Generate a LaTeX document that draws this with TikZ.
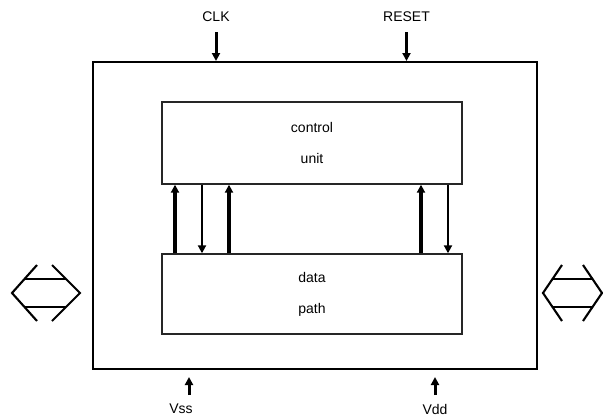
\documentclass[tikz,border=0pt]{standalone}
\usepackage{fontspec}
\setmainfont{Liberation Sans}
\usetikzlibrary{arrows.meta}
\begin{document}
\begin{tikzpicture}[x=1pt,y=-1pt,
  lbl/.style={font=\fontsize{14}{31}\selectfont, inner sep=0pt},
  block/.style={draw, line width=1.4pt, draw=black!85, align=center,
    font=\fontsize{14}{31}\selectfont},
  pin/.style={line width=3pt, -{Triangle[length=8pt,width=8pt]}},
  upbus/.style={line width=3.2pt, -{Triangle[length=8pt,width=8pt]}},
  downbus/.style={line width=2.3pt, -{Triangle[length=8pt,width=8pt]}},
  port/.style={line width=2.1pt, line join=miter}]
\useasboundingbox (0,0) rectangle (603,418);

% chip outline
\node[draw, line width=2pt, minimum width=444pt, minimum height=307pt,
  inner sep=0pt] (chip) at (315,215.5) {};

% controller and datapath blocks
\node[block, minimum width=300pt, minimum height=82pt, inner sep=0pt]
  (cu) at (312,143) {control\\unit};
\node[block, minimum width=300pt, minimum height=80pt, inner sep=0pt]
  (dp) at (312,294) {data\\path};

% buses between the blocks
\coordinate (b1) at (175,0);
\coordinate (b2) at (202,0);
\coordinate (b3) at (229,0);
\coordinate (b4) at (421,0);
\coordinate (b5) at (448,0);
\draw[upbus]   (b1 |- dp.north) -- (b1 |- cu.south);
\draw[downbus] (b2 |- cu.south) -- (b2 |- dp.north);
\draw[upbus]   (b3 |- dp.north) -- (b3 |- cu.south);
\draw[upbus]   (b4 |- dp.north) -- (b4 |- cu.south);
\draw[downbus] (b5 |- cu.south) -- (b5 |- dp.north);

% control inputs
\node[lbl] (clk) at (216,17) {CLK};
\node[lbl] (rst) at (406.5,17) {RESET};
\draw[pin] ([yshift=-10pt]clk.south) -- (clk.south |- chip.north);
\draw[pin] ([yshift=-10pt]rst.south) -- (rst.south |- chip.north);

% supplies
\node[lbl] (vss) at (181,409) {Vss};
\node[lbl] (vdd) at (435,409) {Vdd};
\coordinate (vssin) at (189,395);
\coordinate (vddin) at (435,395);
\draw[pin] (vssin) -- ++(0,-18);
\draw[pin] (vddin) -- ++(0,-18);

% bidirectional ports
\draw[port] (37,265) -- (12,293) -- (37,321);
\draw[port] (52,265) -- (80,293) -- (52,321);
\draw[port] (24.5,279) -- (66,279);
\draw[port] (24.5,307) -- (66,307);

\draw[port] (562,265) -- (543,293) -- (562,321);
\draw[port] (583,265) -- (602,293) -- (583,321);
\draw[port] (552.5,279) -- (592.5,279);
\draw[port] (552.5,307) -- (592.5,307);
\end{tikzpicture}
\end{document}
